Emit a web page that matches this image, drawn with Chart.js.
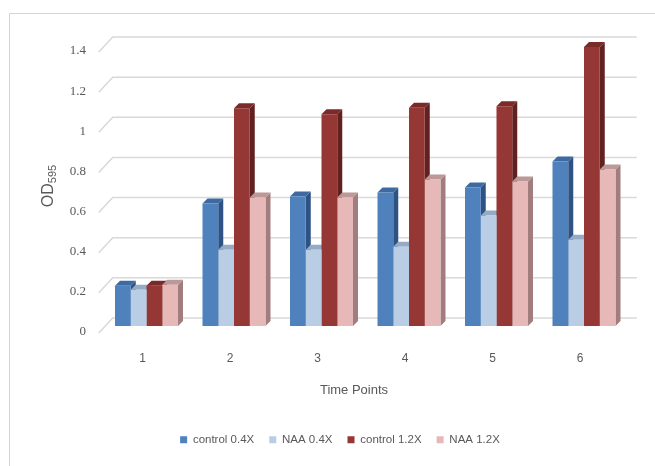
<!DOCTYPE html>
<html>
<head>
<meta charset="utf-8">
<script src="https://cdn.jsdelivr.net/npm/chart.js@4.4.1/dist/chart.umd.min.js"></script>
<style>
  html, body { margin: 0; padding: 0; background: #ffffff; }
  #wrap { width: 655px; height: 466px; position: relative; }
</style>
</head>
<body>
<div id="wrap"><canvas id="chart"></canvas></div>
<script>
// Optical density readings per time point
const timePoints = ['1', '2', '3', '4', '5', '6'];
const control04 = [0.20, 0.61, 0.645, 0.665, 0.69, 0.82];
const naa04     = [0.18, 0.38, 0.38, 0.395, 0.55, 0.43];
const control12 = [0.20, 1.085, 1.055, 1.087, 1.095, 1.39];
const naa12     = [0.205, 0.64, 0.64, 0.73, 0.72, 0.78];

const seriesNames = ['control 0.4X', 'NAA 0.4X', 'control 1.2X', 'NAA 1.2X'];
const yTickLabels = ['0', '0.2', '0.4', '0.6', '0.8', '1', '1.2', '1.4'];
const xTitle = 'Time Points';
const yTitle = 'OD';
const yTitleSub = '595';

// front / top / side shades for the 3-D columns
const shades = [
  { front: '#4F81BD', top: '#3E6AA1', side: '#2D5283' },
  { front: '#B9CDE5', top: '#94AAC5', side: '#8CA1BB' },
  { front: '#953735', top: '#7A2A28', side: '#612120' },
  { front: '#E6B9B8', top: '#BC9897', side: '#A17E7D' }
];

const DX = 5, DY = 5;           // column depth offset
const TEXT = '#595959';
const SANS = "'Liberation Sans', Arial, sans-serif";

function poly(ctx, pts) {
  ctx.beginPath();
  ctx.moveTo(pts[0], pts[1]);
  for (let k = 2; k < pts.length; k += 2) ctx.lineTo(pts[k], pts[k + 1]);
  ctx.closePath();
  ctx.fill();
}

const columns3d = {
  id: 'columns3d',
  beforeDraw(chart) {
    const { ctx, chartArea: a, scales: { y } } = chart;
    ctx.save();
    // outer frame
    ctx.strokeStyle = '#D4D4D4';
    ctx.lineWidth = 1;
    ctx.beginPath();
    ctx.moveTo(9.5, chart.height);
    ctx.lineTo(9.5, 13.5);
    ctx.lineTo(chart.width, 13.5);
    ctx.stroke();
    // side wall + back wall gridlines
    ctx.strokeStyle = '#D9D9D9';
    ctx.lineWidth = 1.5;
    y.ticks.forEach(t => {
      const p = y.getPixelForValue(t.value);
      ctx.beginPath();
      ctx.moveTo(a.left - 4, p + 7);
      ctx.lineTo(a.left + 10, p - 8);
      ctx.lineTo(a.right + 9, p - 8);
      ctx.stroke();
    });
    ctx.restore();
  },
  beforeDatasetsDraw(chart) {
    const ctx = chart.ctx;
    ctx.save();
    const n = chart.data.labels.length;
    for (let i = 0; i < n; i++) {
      chart.data.datasets.forEach((ds, d) => {
        const el = chart.getDatasetMeta(d).data[i];
        const { x, y, base, width } = el.getProps(['x', 'y', 'base', 'width'], true);
        const l = x - width / 2, r = x + width / 2;
        ctx.fillStyle = shades[d].side;
        poly(ctx, [r, y, r + DX, y - DY, r + DX, base - DY, r, base]);
        ctx.fillStyle = shades[d].top;
        poly(ctx, [l, y, l + DX, y - DY, r + DX, y - DY, r, y]);
      });
    }
    ctx.restore();
  },
  afterDraw(chart) {
    const ctx = chart.ctx;
    ctx.save();
    ctx.fillStyle = TEXT;
    // x axis title
    ctx.font = '13px ' + SANS;
    ctx.textAlign = 'center';
    ctx.textBaseline = 'middle';
    ctx.fillText(xTitle, 354, 390);
    // y axis title with subscript
    ctx.translate(48, 186);
    ctx.rotate(-Math.PI / 2);
    ctx.font = '16px ' + SANS;
    const w1 = ctx.measureText(yTitle).width;
    ctx.font = '11px ' + SANS;
    const w2 = ctx.measureText(yTitleSub).width;
    const start = -(w1 + w2) / 2;
    ctx.textAlign = 'left';
    ctx.textBaseline = 'alphabetic';
    ctx.font = '16px ' + SANS;
    ctx.fillText(yTitle, start, 5);
    ctx.font = '11px ' + SANS;
    ctx.fillText(yTitleSub, start + w1, 8);
    ctx.restore();
  }
};

const seriesValues = [control04, naa04, control12, naa12];

new Chart(document.getElementById('chart'), {
  type: 'bar',
  data: {
    labels: timePoints,
    datasets: seriesValues.map((vals, d) => ({
      label: seriesNames[d],
      data: vals,
      backgroundColor: shades[d].front,
      borderWidth: 0,
      categoryPercentage: 0.72,
      barPercentage: 1.0
    }))
  },
  options: {
    responsive: true,
    maintainAspectRatio: false,
    animation: false,
    layout: { padding: { left: 52.25, right: 27.25, top: 45, bottom: 10.5 } },
    plugins: {
      tooltip: { enabled: false },
      legend: {
        position: 'bottom',
        labels: {
          boxWidth: 7,
          boxHeight: 7,
          padding: 15,
          color: TEXT,
          font: { family: SANS, size: 11.5 }
        }
      }
    },
    scales: {
      x: {
        grid: { display: false, drawTicks: false },
        border: { display: false },
        ticks: {
          color: TEXT,
          padding: 25,
          labelOffset: -4,
          font: { family: SANS, size: 12 }
        },
        afterFit(s) { s.height = 93; }
      },
      y: {
        min: 0,
        max: 1.4,
        grid: { display: false, drawTicks: false },
        border: { display: false },
        ticks: {
          stepSize: 0.2,
          color: TEXT,
          padding: 16.75,
          labelOffset: 6,
          font: { family: "'Liberation Serif', serif", size: 13 },
          callback: (v, i) => yTickLabels[i]
        },
        afterFit(s) { s.width = 50.5; }
      }
    }
  },
  plugins: [columns3d]
});
</script>
</body>
</html>
